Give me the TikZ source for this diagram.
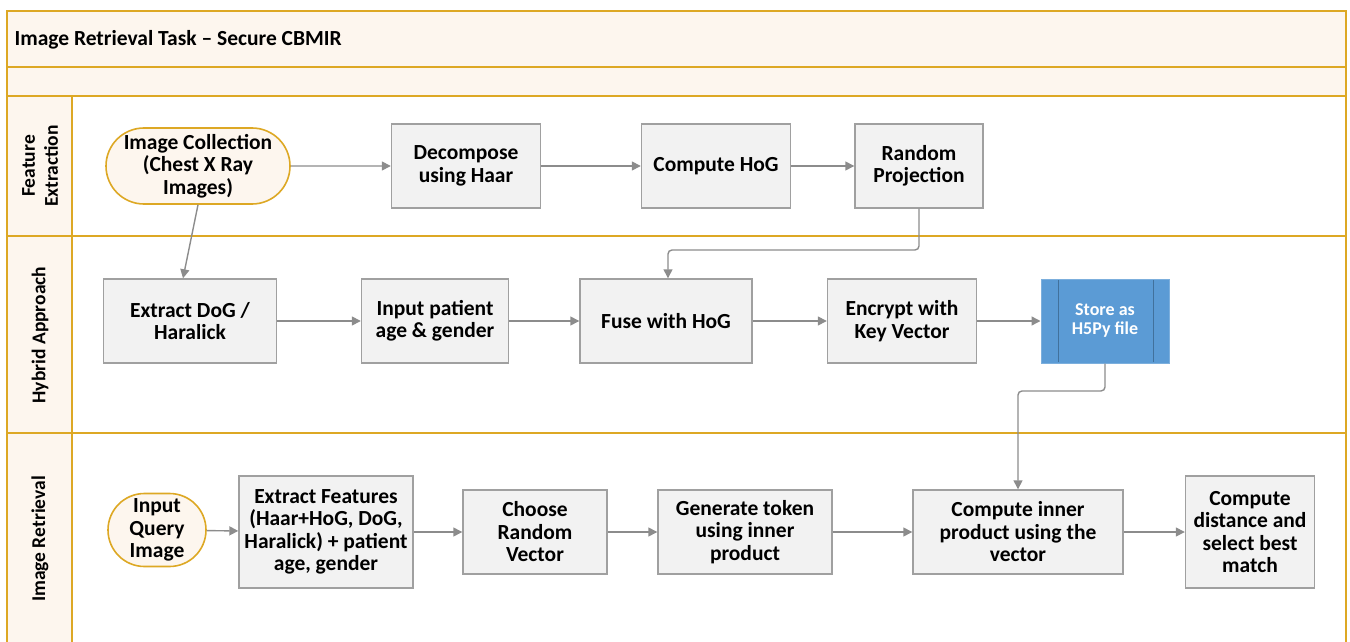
\documentclass[tikz,border=0pt]{standalone}
\usepackage{fontspec}
\setmainfont{Carlito}
\usetikzlibrary{arrows.meta,shapes.misc}
\definecolor{lanegold}{RGB}{221,168,36}
\definecolor{lanefill}{RGB}{253,246,238}
\definecolor{boxfill}{RGB}{242,242,242}
\definecolor{boxline}{RGB}{160,160,160}
\definecolor{arrowgray}{RGB}{140,140,140}
\definecolor{storeblue}{RGB}{91,155,213}
\definecolor{storeline}{RGB}{65,113,156}
\tikzset{
  procbox/.style={draw=boxline, line width=1.4pt, fill=boxfill, align=center,
    font=\fontsize{21.5}{22.5}\selectfont\bfseries, inner sep=2pt},
  termnode/.style={draw=lanegold, line width=1.6pt, fill=lanefill, rounded rectangle, align=center,
    font=\fontsize{21.5}{22.5}\selectfont\bfseries, inner sep=2pt},
  flow/.style={draw=arrowgray, line width=1.4pt, -{Triangle[length=9pt,width=9pt]}, rounded corners=4pt},
  lanetext/.style={font=\fontsize{19.5}{23}\selectfont\bfseries, align=center, rotate=90},
  laneline/.style={draw=lanegold, line width=1.6pt}
}
\begin{document}
\begin{tikzpicture}[x=1pt,y=-1pt]
\useasboundingbox (0,0) rectangle (1350,642);
% header bands
\fill[lanefill] (7,11) rectangle (1346,96);
\fill[lanefill] (7,96) rectangle (72,642);
\draw[laneline] (7,642) -- (7,11) -- (1346,11) -- (1346,642);
\draw[laneline] (7,67) -- (1346,67);
\draw[laneline] (7,96) -- (1346,96);
\draw[laneline] (7,236) -- (1346,236);
\draw[laneline] (7,433) -- (1346,433);
\draw[laneline] (72,96) -- (72,642);
\node[anchor=west, font=\fontsize{21.5}{24}\selectfont\bfseries] (title) at (11,40) {Image Retrieval Task -- Secure CBMIR};
\node[lanetext] (lane1) at (40,166) {Feature\\Extraction};
\node[lanetext] (lane2) at (40,335) {Hybrid Approach};
\node[lanetext] (lane3) at (40,539) {Image Retrieval};

% row 1
\node[termnode, minimum width=188pt, minimum height=76pt] (coll) at (198,166) {Image Collection\\(Chest X Ray\\Images)};
\node[procbox, minimum width=149pt, minimum height=84pt] (haar) at (466,166) {Decompose\\using Haar};
\node[procbox, minimum width=149pt, minimum height=84pt] (hog) at (716,166) {Compute HoG};
\node[procbox, minimum width=128pt, minimum height=84pt] (rp) at (919,166) {Random\\Projection};

% row 2
\node[procbox, minimum width=173pt, minimum height=84pt] (dog) at (190,321) {Extract DoG /\\Haralick};
\node[procbox, minimum width=147pt, minimum height=84pt] (age) at (435,321) {Input patient\\age \& gender};
\node[procbox, minimum width=172pt, minimum height=84pt] (fuse) at (666,321) {Fuse with HoG};
\node[procbox, minimum width=149pt, minimum height=84pt] (enc) at (902,321) {Encrypt with\\Key Vector};
\node[draw=storeblue!80!white, line width=1pt, fill=storeblue, minimum width=128pt, minimum height=84pt,
  text=white, align=center, font=\fontsize{18}{19}\selectfont\bfseries] (store) at (1105,321) {Store as\\H5Py file};
\draw[storeline, line width=1pt] (1058,280) -- (1058,362) (1153,280) -- (1153,362);

% row 3
\node[termnode, minimum width=102pt, minimum height=73pt] (query) at (157,530) {Input\\Query\\Image};
\node[procbox, minimum width=174pt, minimum height=112pt] (feat) at (326,532) {Extract Features\\(Haar+HoG, DoG,\\Haralick) + patient\\age, gender};
\node[procbox, minimum width=144pt, minimum height=84pt] (rv) at (535,532) {Choose\\Random\\Vector};
\node[procbox, minimum width=174pt, minimum height=84pt] (tok) at (745,532) {Generate token\\using inner\\product};
\node[procbox, minimum width=210pt, minimum height=84pt] (inner) at (1018,532) {Compute inner\\product using the\\vector};
\node[procbox, minimum width=129pt, minimum height=112pt] (dist) at (1250,532) {Compute\\distance and\\select best\\match};

% connectors
\draw[flow] (coll) -- (haar);
\draw[flow] (haar) -- (hog);
\draw[flow] (hog) -- (rp);
\draw[flow] (coll.south) -- (dog.north -| 183,0);
\draw[flow] (rp.south) -- (919,250) -- (668,250) -- (fuse.north -| 668,0);
\draw[flow] (dog) -- (age);
\draw[flow] (age) -- (fuse);
\draw[flow] (fuse) -- (enc);
\draw[flow] (enc) -- (store);
\draw[flow] (store.south) -- (1105,391) -- (1018,391) -- (inner.north);
\draw[flow] (query) -- (feat);
\draw[flow] (feat) -- (rv);
\draw[flow] (rv) -- (tok);
\draw[flow] (tok) -- (inner);
\draw[flow] (inner) -- (dist);
\end{tikzpicture}
\end{document}
